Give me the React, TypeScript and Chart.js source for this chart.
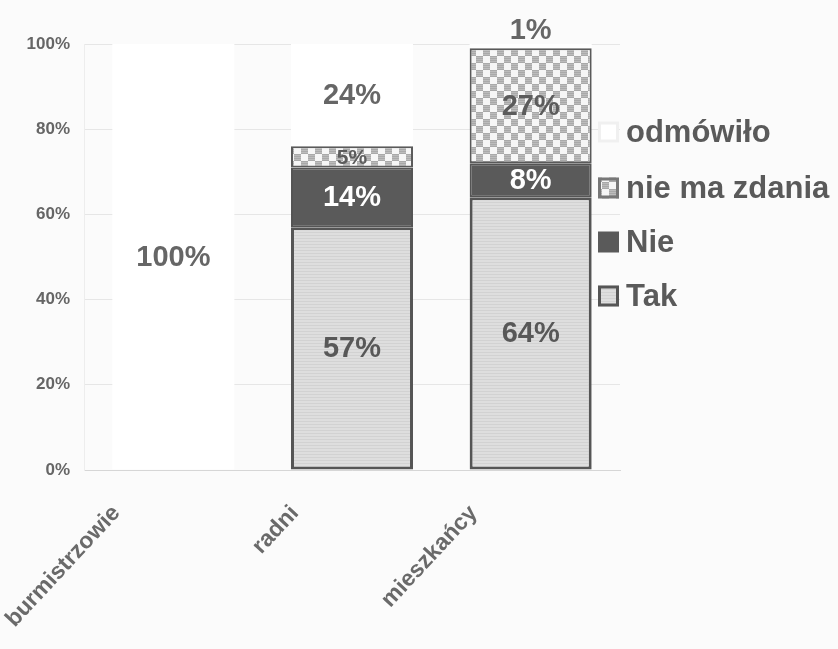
import React, { useEffect, useRef } from "react";
import { Chart, registerables } from "chart.js";

Chart.register(...registerables);

const categories = ["burmistrzowie", "radni", "mieszkańcy"];
const seriesNames = ["Tak", "Nie", "nie ma zdania", "odmówiło"];
const tak = [0, 57, 64];
const nie = [0, 14, 8];
const nieMaZdania = [0, 5, 27];
const odmowilo = [100, 24, 1];
const yTickStep = 20;

const FONT = "'Liberation Sans', Arial, sans-serif";

function makeTakPattern(ctx: CanvasRenderingContext2D) {
  const c = document.createElement("canvas");
  c.width = 3;
  c.height = 3;
  const g = c.getContext("2d")!;
  g.fillStyle = "#dedede";
  g.fillRect(0, 0, 3, 3);
  g.fillStyle = "#d2d2d2";
  g.fillRect(0, 1, 3, 1);
  return ctx.createPattern(c, "repeat")!;
}

function makeCheckerPattern(ctx: CanvasRenderingContext2D) {
  const s = 7;
  const c = document.createElement("canvas");
  c.width = s * 2;
  c.height = s * 2;
  const g = c.getContext("2d")!;
  g.fillStyle = "#f6f6f6";
  g.fillRect(0, 0, s * 2, s * 2);
  const cells = [
    [0, 0],
    [s, s],
  ];
  for (const [x, y] of cells) {
    g.fillStyle = "#a9a9a9";
    g.fillRect(x, y, s, s);
    g.fillStyle = "#bcbcbc";
    for (let k = 1; k < s; k += 2) g.fillRect(x, y + k, s, 1);
  }
  return ctx.createPattern(c, "repeat")!;
}

export default function App() {
  const ref = useRef<HTMLCanvasElement | null>(null);

  useEffect(() => {
    document.body.style.margin = "0";
    const canvas = ref.current!;
    const ctx = canvas.getContext("2d")!;
    const takFill = makeTakPattern(ctx);
    const checkerFill = makeCheckerPattern(ctx);

    const labelColors = ["#585858", "#ffffff", "#5c5c5c", "#666666"];

    const bgPlugin = {
      id: "bg",
      beforeDraw(chart: any) {
        const c = chart.ctx;
        c.save();
        c.fillStyle = "#fbfbfb";
        c.fillRect(0, 0, chart.width, chart.height);
        c.restore();
      },
    };

    const labelPlugin = {
      id: "valueLabels",
      afterDatasetsDraw(chart: any) {
        const c = chart.ctx;
        c.save();
        c.textAlign = "center";
        c.textBaseline = "middle";
        chart.data.datasets.forEach((ds: any, i: number) => {
          const meta = chart.getDatasetMeta(i);
          meta.data.forEach((bar: any, j: number) => {
            const v = ds.data[j];
            if (!v) return;
            const { x, y, base } = bar.getProps(["x", "y", "base"], true);
            let cy = (y + base) / 2;
            let size = 29;
            if (v < 3) {
              cy = y - 14;
            } else if (v < 7) {
              size = 21;
            }
            c.font = `bold ${size}px ${FONT}`;
            c.fillStyle = v < 3 ? "#666666" : labelColors[i];
            c.fillText(v + "%", x, cy + 1);
          });
        });
        c.restore();
      },
    };

    const legendPlugin = {
      id: "customLegend",
      afterDraw(chart: any) {
        const c = chart.ctx;
        c.save();
        const ys = [132, 188, 242, 296];
        const order = [3, 2, 1, 0];
        c.font = `bold 31px ${FONT}`;
        c.textBaseline = "middle";
        c.textAlign = "left";
        order.forEach((dsIndex, k) => {
          const ds = chart.data.datasets[dsIndex];
          const cy = ys[k];
          const box = 21;
          const bx = 598;
          const by = cy - box / 2;
          c.fillStyle = ds.backgroundColor;
          c.fillRect(bx, by, box, box);
          if (ds.legendBorder) {
            c.strokeStyle = ds.legendBorder;
            c.lineWidth = 3;
            c.strokeRect(bx + 1.5, by + 1.5, box - 3, box - 3);
          }
          c.fillStyle = "#5a5a5a";
          c.fillText(ds.label, 626, cy + 1);
        });
        c.restore();
      },
    };

    const border = (w: number) => (cx: any) => (cx.raw ? w : 0);

    const chart = new Chart(canvas, {
      type: "bar",
      data: {
        labels: categories,
        datasets: [
          {
            label: seriesNames[0],
            data: tak,
            backgroundColor: takFill as any,
            borderColor: "#555555",
            borderWidth: border(3) as any,
            borderSkipped: false,
            legendBorder: "#555555",
          } as any,
          {
            label: seriesNames[1],
            data: nie,
            backgroundColor: "#5a5a5a",
            borderColor: "#555555",
            borderWidth: border(2) as any,
            borderSkipped: false,
          } as any,
          {
            label: seriesNames[2],
            data: nieMaZdania,
            backgroundColor: checkerFill as any,
            borderColor: "#5a5a5a",
            borderWidth: border(2) as any,
            borderSkipped: false,
            legendBorder: "#777777",
          } as any,
          {
            label: seriesNames[3],
            data: odmowilo,
            backgroundColor: "#ffffff",
            borderWidth: 0,
            legendBorder: "#f0f0f0",
          } as any,
        ],
      },
      options: {
        animation: false,
        responsive: false,
        maintainAspectRatio: false,
        layout: { padding: { top: 44, right: 218, left: 0, bottom: 0 } },
        datasets: {
          bar: { barPercentage: 0.683, categoryPercentage: 1 },
        },
        plugins: {
          legend: { display: false },
          tooltip: { enabled: false },
          title: { display: false },
        },
        scales: {
          x: {
            stacked: true,
            grid: { display: false },
            border: { display: true, color: "#d6d6d6", width: 1 },
            ticks: {
              minRotation: 47,
              maxRotation: 47,
              labelOffset: -57,
              padding: 22,
              color: "#6a6a6a",
              font: { family: FONT, size: 23, weight: "bold" },
            },
            afterFit(s: any) {
              s.height = 179;
            },
          },
          y: {
            stacked: true,
            min: 0,
            max: 100,
            ticks: {
              stepSize: yTickStep,
              padding: 14,
              color: "#666666",
              font: { family: FONT, size: 17, weight: "bold" },
              callback: (v: any) => v + "%",
            },
            grid: { color: "#e6e6e6", drawTicks: false },
            border: { display: true, color: "#ededed" },
            afterFit(s: any) {
              s.width = 84;
            },
          },
        },
      },
      plugins: [bgPlugin, labelPlugin, legendPlugin],
    });

    return () => chart.destroy();
  }, []);

  return (
    <div style={{ width: 838, height: 649 }}>
      <canvas ref={ref} width={838} height={649} style={{ display: "block" }} />
    </div>
  );
}
